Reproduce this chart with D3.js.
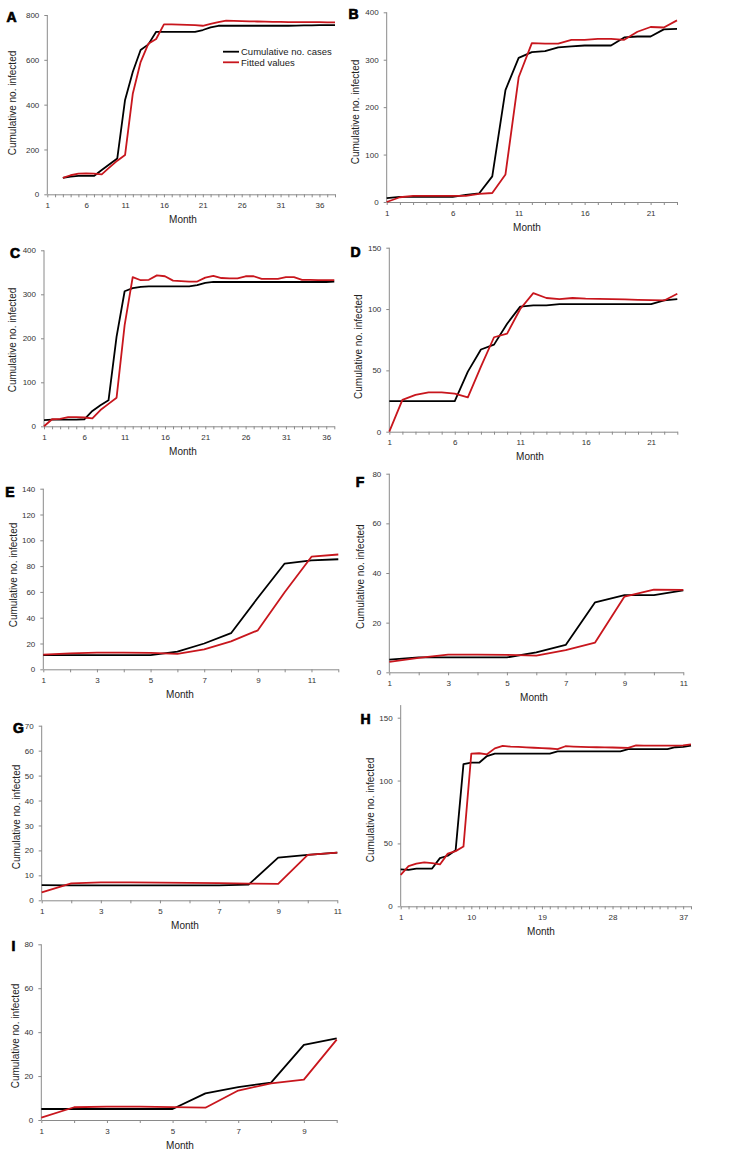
<!DOCTYPE html>
<html>
<head>
<meta charset="utf-8">
<script src="https://cdn.jsdelivr.net/npm/d3@7"></script>
<style>
  html, body { margin: 0; padding: 0; background: #fff; }
  svg { display: block; font-family: "Liberation Sans", Arial, Helvetica, sans-serif; }
</style>
</head>
<body>
<svg id="chart" width="750" height="1157"></svg>
<script>
// ---------------- DATA ----------------
const monthsA = [1,2,3,4,5,6,7,8,9,10,11,12,13,14,15,16,17,18,19,20,21,22,23,24,25,26,27,28,29,30,31,32,33,34,35,36,37,38];
const casesA  = [null,null,73,79,82,82,82,108,134,160,421,547,644,669,725,725,725,725,725,725,733,745,752,752,752,752,752,752,752,752,752,752,753,754,754,755,755,755];
const fittedA = [null,null,73,85,92,93,92,89,120,150,175,450,590,672,693,758,758,757,756,755,752,760,768,775,774,773,772,771,770,769,769,768,768,768,768,768,767,767];
const xLabelsA = [1,6,11,16,21,26,31,36];
const yTicksA = [0,200,400,600,800];

const monthsB = [1,2,3,4,5,6,7,8,9,10,11,12,13,14,15,16,17,18,19,20,21,22,23];
const casesB  = [8,11,11,11,11,11,15,18,54,236,304,316,318,326,328,330,330,330,347,349,349,364,365];
const fittedB = [0,10,13,13,13,13,13,17,19,58,263,335,334,334,342,342,344,344,342,359,369,368,383];
const xLabelsB = [1,6,11,16,21];
const yTicksB = [0,100,200,300,400];

const monthsC = [1,2,3,4,5,6,7,8,9,10,11,12,13,14,15,16,17,18,19,20,21,22,23,24,25,26,27,28,29,30,31,32,33,34,35,36,37];
const casesC  = [14,15,15,15,15,16,35,48,59,204,307,314,317,318,318,318,318,318,318,321,326,328,328,328,328,328,328,328,328,328,328,328,328,328,328,328,329];
const fittedC = [0,16,17,21,21,20,18,37,51,65,230,339,332,333,343,341,331,330,329,329,338,342,337,336,336,341,341,335,335,335,339,339,333,333,332,332,332];
const xLabelsC = [1,6,11,16,21,26,31,36];
const yTicksC = [0,100,200,300,400];

const monthsD = [1,2,3,4,5,6,7,8,9,10,11,12,13,14,15,16,17,18,19,20,21,22,23];
const casesD  = [25,25,25,25,25,25,49,67,71,88,102,103,103,104,104,104,104,104,104,104,104,107,108];
const fittedD = [0,26,30,32,32,31,28,53,77,80,100,113,109,108,109,108.5,108.3,108,107.8,107.5,107.3,107,112.5];
const xLabelsD = [1,6,11,16,21];
const yTicksD = [0,50,100,150];

const monthsE = [1,2,3,4,5,6,7,8,9,10,11,12];
const casesE  = [11,11,11,11,11,13.7,20,28,55.5,82,84.5,85.3];
const fittedE = [11.4,12.4,12.9,12.9,12.7,12,15.5,21.7,30.2,59.7,87.3,89];
const xLabelsE = [1,3,5,7,9,11];
const yTicksE = [0,20,40,60,80,100,120,140];

const monthsF = [1,2,3,4,5,6,7,8,9,10,11];
const casesF  = [5.1,6,6,6,6,8,11,28.2,31.1,31.1,33];
const fittedF = [4.2,5.8,7.1,7.1,7,6.7,8.9,12,30.5,33.3,33.2];
const xLabelsF = [1,3,5,7,9,11];
const yTicksF = [0,20,40,60,80];

const monthsG = [1,2,3,4,5,6,7,8,9,10,11];
const casesG  = [6.1,6,6,6,6,6,6,6.3,17.1,18.2,19.1];
const fittedG = [3.2,6.8,7.2,7.2,7.1,7,6.9,6.7,6.6,18.2,19.1];
const xLabelsG = [1,3,5,7,9,11];
const yTicksG = [0,10,20,30,40,50,60,70];

const monthsH = [1,2,3,4,5,6,7,8,9,10,11,12,13,14,15,16,17,18,19,20,21,22,23,24,25,26,27,28,29,30,31,32,33,34,35,36,37,38];
const casesH  = [29.3,29,30,30,30,38.3,40.2,44.5,113,114.2,114.2,119.5,121.4,121.4,121.4,121.4,121.4,121.4,121.4,121.4,123.2,123.2,123.2,123.2,123.2,123.2,123.2,123.2,123.2,125,125,125,125,125,125,126.5,126.7,127.7];
const fittedH = [25,32,33.9,34.9,34.3,33.3,41.9,43.9,47.5,121.4,121.7,120.9,125.6,127.5,127,126.7,126.4,126.1,125.8,125.5,125,127.3,127,126.8,126.6,126.5,126.4,126.3,126.1,126,128,127.8,127.8,127.7,127.7,127.7,128,128.8];
const xLabelsH = [1,10,19,28,37];
const yTicksH = [0,50,100,150];

const monthsI = [1,2,3,4,5,6,7,8,9,10];
const casesI  = [5,5,5,5,5,12.1,15,17,34.2,37.2];
const fittedI = [1.1,5.8,6.1,6.1,5.9,5.6,13.4,16.7,18.4,36.6];
const xLabelsI = [1,3,5,7,9];
const yTicksI = [0,20,40,60,80];

const seriesNames = ["Cumulative no. cases", "Fitted values"];
const yTitle = "Cumulative no. infected";
const xTitle = "Month";

// ---------------- LAYOUT ----------------
const panels = [
  {id:"A", months:monthsA, cases:casesA, fitted:fittedA, xl:xLabelsA, yt:yTicksA, ymax:800,
   x0:47.3, x1:335, yTop:15, yBot:194.3, letter:[11.5,16.5], ytx:[12,103], mtx:183},
  {id:"B", months:monthsB, cases:casesB, fitted:fittedB, xl:xLabelsB, yt:yTicksB, ymax:400,
   x0:386.7, x1:677, yTop:12.3, yBot:202, letter:[353.5,13.5], ytx:[355,112], mtx:527},
  {id:"C", months:monthsC, cases:casesC, fitted:fittedC, xl:xLabelsC, yt:yTicksC, ymax:400,
   x0:44, x1:334.3, yTop:250.3, yBot:426.3, letter:[15,253], ytx:[12.3,340], mtx:183},
  {id:"D", months:monthsD, cases:casesD, fitted:fittedD, xl:xLabelsD, yt:yTicksD, ymax:150,
   x0:389.3, x1:677.3, yTop:247.7, yBot:431.7, letter:[355.5,252], ytx:[358.3,346.7], mtx:530},
  {id:"E", months:monthsE, cases:casesE, fitted:fittedE, xl:xLabelsE, yt:yTicksE, ymax:140,
   x0:43.3, x1:338.3, yTop:488.7, yBot:669.3, letter:[10,492], ytx:[13.3,575], mtx:180},
  {id:"F", months:monthsF, cases:casesF, fitted:fittedF, xl:xLabelsF, yt:yTicksF, ymax:80,
   x0:389.3, x1:683.3, yTop:473.7, yBot:672.3, letter:[360,482], ytx:[360,576.7], mtx:534},
  {id:"G", months:monthsG, cases:casesG, fitted:fittedG, xl:xLabelsG, yt:yTicksG, ymax:70,
   x0:41.7, x1:337.3, yTop:725.7, yBot:900.3, letter:[18.5,728], ytx:[16,817], mtx:185},
  {id:"H", months:monthsH, cases:casesH, fitted:fittedH, xl:xLabelsH, yt:yTicksH, ymax:160,
   x0:400.7, x1:691, yTop:705.1, yBot:906.3, letter:[365.5,719], ytx:[370,810], mtx:541},
  {id:"I", months:monthsI, cases:casesI, fitted:fittedI, xl:xLabelsI, yt:yTicksI, ymax:80,
   x0:41.3, x1:336.7, yTop:944.3, yBot:1120, letter:[13.5,946], ytx:[15,1036], mtx:180}
];

const BLACK = "#000000";
const RED = "#c8161d";
const AXIS = "#8a8a8a";

const svg = d3.select("#chart");

panels.forEach(p => {
  const g = svg.append("g").attr("class", "panel-" + p.id);
  const x = d3.scalePoint().domain(p.months).range([p.x0, p.x1]).padding(0);
  const y = d3.scaleLinear().domain([0, p.ymax]).range([p.yBot, p.yTop]);

  // y axis
  const ya = g.append("g").attr("transform", `translate(${p.x0},0)`)
    .call(d3.axisLeft(y).tickValues(p.yt).tickSize(3).tickPadding(5).tickSizeOuter(0));
  ya.select(".domain").attr("stroke", AXIS).attr("d", `M0,${p.yBot}V${p.yTop}`);
  ya.selectAll(".tick line").attr("stroke", AXIS);
  ya.selectAll(".tick text").attr("font-size", 8).attr("fill", "#333")
    .attr("font-family", "Liberation Sans, Arial, sans-serif");

  // x axis
  const xa = g.append("g").attr("transform", `translate(0,${p.yBot})`)
    .call(d3.axisBottom(x).tickValues(p.months).tickSize(3).tickPadding(5).tickSizeOuter(0)
      .tickFormat(d => p.xl.includes(d) ? d : ""));
  xa.select(".domain").attr("stroke", AXIS);
  xa.selectAll(".tick line").attr("stroke", AXIS);
  xa.selectAll(".tick text").attr("font-size", 8).attr("fill", "#333")
    .attr("font-family", "Liberation Sans, Arial, sans-serif");

  // lines
  const line = d3.line()
    .defined(d => d.v !== null)
    .x(d => x(d.m))
    .y(d => y(d.v));
  const casesPts = p.months.map((m, i) => ({m, v: p.cases[i]}));
  const fittedPts = p.months.map((m, i) => ({m, v: p.fitted[i]}));
  g.append("path").datum(casesPts).attr("d", line)
    .attr("fill", "none").attr("stroke", BLACK).attr("stroke-width", 1.8).attr("stroke-linejoin", "round");
  g.append("path").datum(fittedPts).attr("d", line)
    .attr("fill", "none").attr("stroke", RED).attr("stroke-width", 1.8).attr("stroke-linejoin", "round");

  // axis titles
  g.append("text")
    .attr("transform", `translate(${p.ytx[0]},${p.ytx[1]}) rotate(-90)`)
    .attr("text-anchor", "middle").attr("dominant-baseline", "central")
    .attr("font-size", 10).attr("fill", "#222").text(yTitle);
  g.append("text")
    .attr("x", p.mtx).attr("y", p.yBot + 25)
    .attr("text-anchor", "middle").attr("dominant-baseline", "central")
    .attr("font-size", 10).attr("fill", "#222").text(xTitle);

  // panel letter
  g.append("text")
    .attr("x", p.letter[0]).attr("y", p.letter[1])
    .attr("text-anchor", "middle").attr("dominant-baseline", "central")
    .attr("font-size", 14).attr("font-weight", "bold").attr("fill", "#000")
    .attr("stroke", "#000").attr("stroke-width", 0.7)
    .text(p.id);
});

// legend (panel A)
const lg = svg.append("g").attr("class", "legend");
const legendItems = [{name: seriesNames[0], color: BLACK, y: 51.7}, {name: seriesNames[1], color: RED, y: 62.3}];
legendItems.forEach(it => {
  lg.append("line").attr("x1", 223).attr("x2", 239).attr("y1", it.y).attr("y2", it.y)
    .attr("stroke", it.color).attr("stroke-width", 1.8);
  lg.append("text").attr("x", 241).attr("y", it.y).attr("dominant-baseline", "central")
    .attr("font-size", 9.5).attr("fill", "#222").text(it.name);
});
</script>
</body>
</html>
